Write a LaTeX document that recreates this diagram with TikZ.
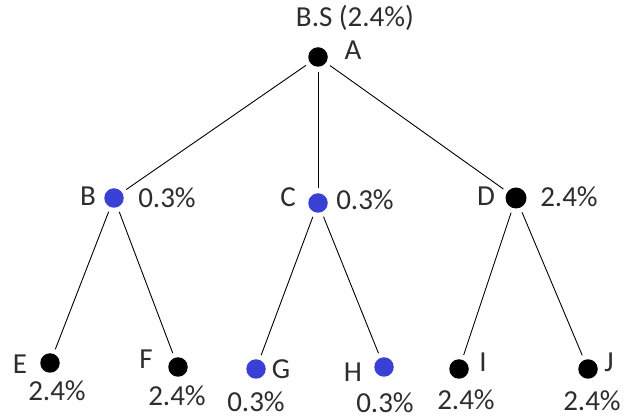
\documentclass[tikz,border=0pt]{standalone}
\usepackage{fontspec}
\setmainfont{Carlito}
\definecolor{dotblue}{RGB}{58,64,212}
\definecolor{labelgray}{RGB}{45,45,45}
\begin{document}
\begin{tikzpicture}[x=1pt,y=-1pt,
  blackdot/.style={circle,fill=black,inner sep=0pt,minimum size=19.5pt,outer sep=5pt},
  bluedot/.style={circle,fill=dotblue,inner sep=0pt,minimum size=19.5pt,outer sep=5pt},
  lbl/.style={text=labelgray,inner sep=0pt,font=\fontsize{29}{33}\selectfont},
  edge/.style={draw=black,line width=0.9pt}]
\useasboundingbox (0,0) rectangle (624,419);
% root
\node[blackdot] (A) at (318,57) {};
\node[lbl] (Aname) at (353,50) {A};
\node[lbl] (Aval) at (355,18) {B.S (2.4\%)};
% middle level
\node[bluedot] (B) at (114,198) {};
\node[lbl] (Bname) at (88,196) {B};
\node[lbl] (Bval) at (167,198) {0.3\%};
\node[bluedot] (C) at (318,203) {};
\node[lbl] (Cname) at (288,197) {C};
\node[lbl] (Cval) at (365,200) {0.3\%};
\node[blackdot,minimum size=21pt] (D) at (516,198) {};
\node[lbl] (Dname) at (486,196) {D};
\node[lbl] (Dval) at (569,197) {2.4\%};
% leaves
\node[blackdot] (E) at (50,363) {};
\node[lbl] (Ename) at (20,364) {E};
\node[lbl] (Eval) at (57,391) {2.4\%};
\node[blackdot] (F) at (178,367) {};
\node[lbl] (Fname) at (146,359) {F};
\node[lbl] (Fval) at (177,396) {2.4\%};
\node[bluedot] (G) at (256,369) {};
\node[lbl] (Gname) at (281,369) {G};
\node[lbl] (Gval) at (256,402) {0.3\%};
\node[bluedot] (H) at (384,367) {};
\node[lbl] (Hname) at (353,372) {H};
\node[lbl] (Hval) at (385,403) {0.3\%};
\node[blackdot] (I) at (459,369) {};
\node[lbl] (Iname) at (483,362) {I};
\node[lbl] (Ival) at (466,400) {2.4\%};
\node[blackdot] (J) at (588,369) {};
\node[lbl] (Jname) at (609,362) {J};
\node[lbl] (Jval) at (592,401) {2.4\%};
% connectors
\draw[edge] (A) -- (B);
\draw[edge] (A) -- (C);
\draw[edge] (A) -- (D);
\draw[edge] (B) -- (E);
\draw[edge] (B) -- (F);
\draw[edge] (C) -- (G);
\draw[edge] (C) -- (H);
\draw[edge] (D) -- (I);
\draw[edge] (D) -- (J);
\end{tikzpicture}
\end{document}
